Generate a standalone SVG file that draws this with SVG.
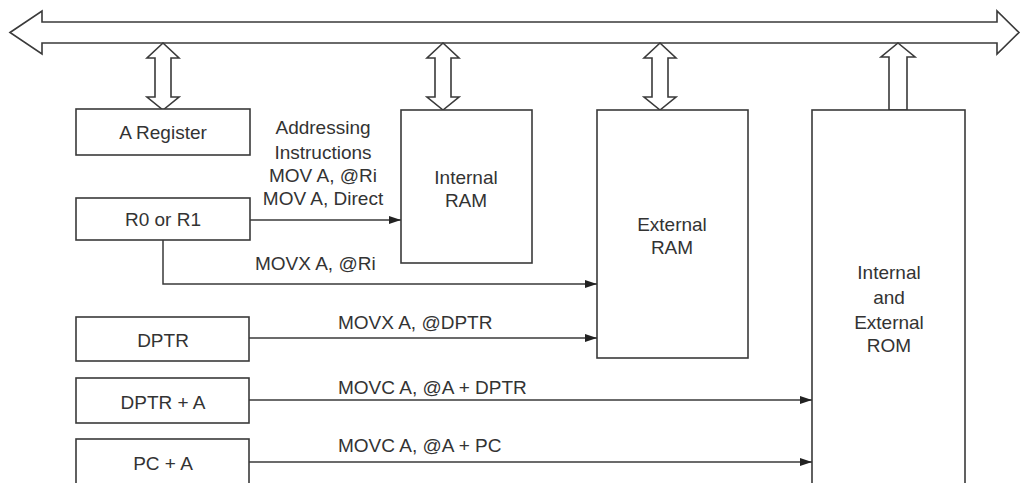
<svg xmlns="http://www.w3.org/2000/svg" width="1021" height="483" viewBox="0 0 1021 483">
<defs>
<style>
.box{fill:#fff;stroke:#3a3a3a;stroke-width:1.6}
.bus{fill:#fff;stroke:#3a3a3a;stroke-width:1.6;stroke-linejoin:miter}
.con{fill:none;stroke:#3a3a3a;stroke-width:1.5}
text{font-family:"Liberation Sans",Arial,sans-serif;font-size:19px;fill:#333;text-anchor:middle}
.lbl{text-anchor:start}
</style>
<marker id="ah" markerWidth="12" markerHeight="8" refX="12" refY="4" orient="auto" markerUnits="userSpaceOnUse">
<path d="M0,0 L12,4 L0,8 Z" fill="#222"/>
</marker>
</defs>
<rect width="1021" height="483" fill="#fff"/>

<g id="bus">
<path class="bus" d="M10,32.5 L42,11 L42,22 L997,22 L997,11 L1019,32.5 L997,54 L997,43 L42,43 L42,54 Z"/>
<path class="bus" d="M163,43 L179,58 L171,58 L171,97 L179,97 L163,110 L147,97 L155,97 L155,58 L147,58 Z"/>
<path class="bus" d="M443,43 L459,58 L451,58 L451,97 L459,97 L443,110 L427,97 L435,97 L435,58 L427,58 Z"/>
<path class="bus" d="M660,43 L676,58 L668,58 L668,97 L676,97 L660,110 L644,97 L652,97 L652,58 L644,58 Z"/>
<path class="bus" d="M898,43 L915,57 L907,57 L907,110 L889,110 L889,57 L881,57 Z"/>
</g>

<g id="a-register">
<rect class="box" x="76" y="109" width="174" height="46"/>
<text x="163" y="139">A Register</text>
</g>
<g id="r0-r1">
<rect class="box" x="76" y="198" width="174" height="42"/>
<text x="163" y="226">R0 or R1</text>
</g>
<g id="dptr">
<rect class="box" x="76" y="317" width="173" height="44"/>
<text x="163" y="347">DPTR</text>
</g>
<g id="dptr-a">
<rect class="box" x="76" y="378" width="173" height="45"/>
<text x="163" y="409">DPTR + A</text>
</g>
<g id="pc-a">
<rect class="box" x="76" y="439" width="173" height="60"/>
<text x="163" y="470">PC + A</text>
</g>
<g id="internal-ram">
<rect class="box" x="401" y="110" width="131" height="153"/>
<text x="466" y="184">Internal</text>
<text x="466" y="207">RAM</text>
</g>
<g id="external-ram">
<rect class="box" x="597" y="110" width="151" height="248"/>
<text x="672" y="231">External</text>
<text x="672" y="254">RAM</text>
</g>
<g id="rom">
<rect class="box" x="812" y="110" width="153" height="390"/>
<text x="889" y="279">Internal</text>
<text x="889" y="304">and</text>
<text x="889" y="329">External</text>
<text x="889" y="352">ROM</text>
</g>

<g id="connectors">
<line class="con" x1="250" y1="220" x2="401" y2="220" marker-end="url(#ah)"/>
<polyline class="con" points="163,240 163,284 597,284" marker-end="url(#ah)"/>
<line class="con" x1="249" y1="338" x2="597" y2="338" marker-end="url(#ah)"/>
<line class="con" x1="249" y1="400" x2="812" y2="400" marker-end="url(#ah)"/>
<line class="con" x1="249" y1="462" x2="812" y2="462" marker-end="url(#ah)"/>
</g>

<g id="labels">
<text x="323" y="134">Addressing</text>
<text x="323" y="159">Instructions</text>
<text x="323" y="182">MOV A, @Ri</text>
<text x="323" y="205">MOV A, Direct</text>
<text class="lbl" x="255" y="270">MOVX A, @Ri</text>
<text class="lbl" x="338" y="329">MOVX A, @DPTR</text>
<text class="lbl" x="338" y="394">MOVC A, @A + DPTR</text>
<text class="lbl" x="338" y="452">MOVC A, @A + PC</text>
</g>
</svg>
